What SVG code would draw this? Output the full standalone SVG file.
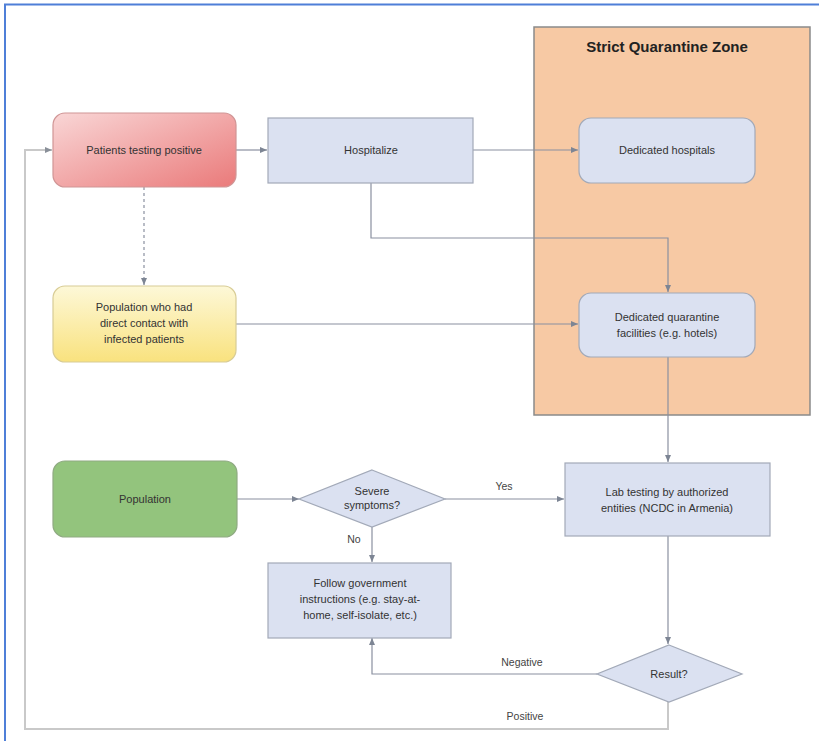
<svg xmlns="http://www.w3.org/2000/svg" width="819" height="741" viewBox="0 0 819 741">
<defs>
<linearGradient id="gRed" x1="0" y1="0" x2="1" y2="1"><stop offset="0" stop-color="#f9d6d6"/><stop offset="1" stop-color="#ea7a7a"/></linearGradient>
<linearGradient id="gYel" x1="0" y1="0" x2="0" y2="1"><stop offset="0" stop-color="#fdf8d8"/><stop offset="1" stop-color="#f9e27e"/></linearGradient>
<marker id="ar" markerWidth="8" markerHeight="8" refX="7" refY="4" orient="auto" markerUnits="userSpaceOnUse"><path d="M0,1 L7,4 L0,7 Z" fill="#7d8594"/></marker>
<marker id="arL" markerWidth="8" markerHeight="8" refX="7" refY="4" orient="auto" markerUnits="userSpaceOnUse"><path d="M0,1 L7,4 L0,7 Z" fill="#8a9099"/></marker>
<style>
.t{font-family:"Liberation Sans",Arial,sans-serif;font-size:11px;fill:#333;text-anchor:middle}
.lbl{font-family:"Liberation Sans",Arial,sans-serif;font-size:10.5px;fill:#444;text-anchor:middle}
.box{fill:#dbe1f1;stroke:#a2a9b8;stroke-width:1.2}
.c{fill:none;stroke:#8a90a0;stroke-width:1.2}
.cl{fill:none;stroke:#c9c9c9;stroke-width:2}
</style>
</defs>
<rect width="819" height="741" fill="#fff"/>
<path d="M5,741 V4.5 H819" fill="none" stroke="#4f7fd8" stroke-width="2"/>

<g id="zone">
<rect x="534" y="27" width="276" height="388" fill="#f7c9a4" stroke="#8a8a8a" stroke-width="1.5"/>
<text x="667" y="52" font-family="Liberation Sans,Arial,sans-serif" font-size="15" font-weight="bold" fill="#222" text-anchor="middle">Strict Quarantine Zone</text>
</g>

<g id="connectors">
<path class="cl" d="M668,702 V729 H25 V150 H52" marker-end="url(#arL)"/>
<path class="c" d="M236,150 H267" marker-end="url(#ar)"/>
<path class="c" d="M473,150 H578" marker-end="url(#ar)"/>
<path class="c" d="M371,183 V238 H668 V292" marker-end="url(#ar)"/>
<path class="c" d="M144,187 V285" stroke-dasharray="3,3" stroke="#aab" marker-end="url(#ar)"/>
<path class="c" d="M236,324 H578" marker-end="url(#ar)"/>
<path class="c" d="M668,357 V462" marker-end="url(#ar)"/>
<path class="c" d="M237,499 H299" marker-end="url(#ar)"/>
<path class="c" d="M445,499 H564" marker-end="url(#ar)"/>
<path class="c" d="M372,527 V562" marker-end="url(#ar)"/>
<path class="c" d="M668,536 V644" marker-end="url(#ar)"/>
<path class="c" d="M597,674 H372 V638" marker-end="url(#ar)"/>
<text class="lbl" x="504" y="490">Yes</text>
<text class="lbl" x="354" y="543">No</text>
<text class="lbl" x="522" y="666">Negative</text>
<text class="lbl" x="525" y="720">Positive</text>
</g>

<g id="patients">
<rect x="53" y="113" width="183" height="74" rx="12" fill="url(#gRed)" stroke="#d09595" stroke-width="1.2"/>
<text class="t" x="144" y="154">Patients testing positive</text>
</g>
<g id="hospitalize">
<rect class="box" x="268" y="118" width="205" height="65"/>
<text class="t" x="371" y="154">Hospitalize</text>
</g>
<g id="dedicated-hospitals">
<rect class="box" x="579" y="118" width="176" height="65" rx="12"/>
<text class="t" x="667" y="154">Dedicated hospitals</text>
</g>
<g id="contact">
<rect x="53" y="286" width="183" height="76" rx="12" fill="url(#gYel)" stroke="#d8cc95" stroke-width="1.2"/>
<text class="t" x="144" y="311">Population who had</text>
<text class="t" x="144" y="327">direct contact with</text>
<text class="t" x="144" y="343">infected patients</text>
</g>
<g id="quarantine">
<rect class="box" x="579" y="293" width="176" height="64" rx="12"/>
<text class="t" x="667" y="321">Dedicated quarantine</text>
<text class="t" x="667" y="337">facilities (e.g. hotels)</text>
</g>
<g id="population">
<rect x="53" y="461" width="184" height="76" rx="12" fill="#93c47d" stroke="#8faa82" stroke-width="1.2"/>
<text class="t" x="145" y="503">Population</text>
</g>
<g id="severe">
<polygon class="box" points="372,470 445,499 372,527 299,499"/>
<text class="t" x="372" y="495" font-size="10">Severe</text>
<text class="t" x="372" y="509" font-size="10">symptoms?</text>
</g>
<g id="lab">
<rect class="box" x="565" y="463" width="205" height="73"/>
<text class="t" x="667" y="496">Lab testing by authorized</text>
<text class="t" x="667" y="512">entities (NCDC in Armenia)</text>
</g>
<g id="follow">
<rect class="box" x="268" y="563" width="183" height="75"/>
<text class="t" x="360" y="587">Follow government</text>
<text class="t" x="360" y="603">instructions (e.g. stay-at-</text>
<text class="t" x="360" y="619">home, self-isolate, etc.)</text>
</g>
<g id="result">
<polygon class="box" points="669,645 742,674 669,702 597,674"/>
<text class="t" x="669" y="678">Result?</text>
</g>
</svg>
